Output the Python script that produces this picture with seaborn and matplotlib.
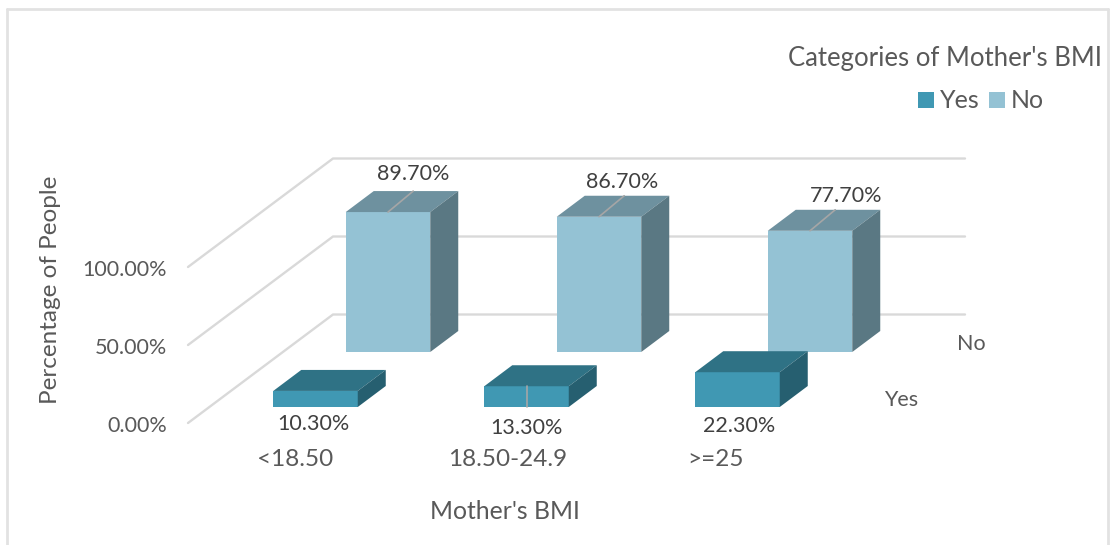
import matplotlib
matplotlib.use("Agg")
import matplotlib.pyplot as plt
import pandas as pd
import seaborn as sns
from matplotlib.lines import Line2D
from matplotlib.patches import Polygon, Rectangle
from matplotlib.transforms import Affine2D

categories = ["<18.50", "18.50-24.9", ">=25"]
yes_values = [10.3, 13.3, 22.3]
no_values = [89.7, 86.7, 77.7]
grid_values = [0, 50, 100]

W, H = 1111, 545
PX_PER_UNIT_X = 211.0
PX_PER_PCT = 1.56
ORIGIN_X, ORIGIN_Y = 315.5, 407.0
BAR_W = 84.5 / PX_PER_UNIT_X
DEPTH_X, DEPTH_Y = 28 / PX_PER_UNIT_X, 21 / PX_PER_PCT
TEXT = "#404040"
SOFT = "#595959"
GRID = "#D9D9D9"

sns.set_theme(style="white")
plt.rcParams["font.family"] = ["Lato", "DejaVu Sans"]

fig = plt.figure(figsize=(W / 100, H / 100), dpi=100, facecolor="white")
ax = fig.add_axes([0, 0, 1, 1])
ax.set_xlim(-ORIGIN_X / PX_PER_UNIT_X, (W - ORIGIN_X) / PX_PER_UNIT_X)
ax.set_ylim(-(H - ORIGIN_Y) / PX_PER_PCT, ORIGIN_Y / PX_PER_PCT)
ax.set_axis_off()


def px(x, y):
    """Canvas pixel position (origin top left) to data coordinates."""
    return (x - ORIGIN_X) / PX_PER_UNIT_X, (ORIGIN_Y - y) / PX_PER_PCT


def label(x, y, s, size=15.5, color=TEXT, **kw):
    dx, dy = px(x, y + 1.5)
    kw.setdefault("ha", "center")
    ax.text(dx, dy, s, fontsize=size, color=color, va="center", **kw)


# Outer chart frame
for (a, b) in [((7, H + 5), (7, 9)), ((7, 9), (1108, 9)), ((1108, 9), (1108, H + 5))]:
    xa, ya = px(*a)
    xb, yb = px(*b)
    ax.add_line(Line2D([xa, xb], [ya, yb], color="#E2E2E2", lw=2, zorder=1, clip_on=False))

# Gridlines: a slanted floor/wall run, then the horizontal run along the back wall
for g in grid_values:
    fx, fy = px(188, 423 - g * PX_PER_PCT)
    bx, by = px(333, 314.5 - g * PX_PER_PCT)
    ex, _ = px(965, 0)
    ax.add_line(Line2D([fx, bx, ex], [fy, by, by], color=GRID, lw=1.7, zorder=1))


def draw_series(values, colors, shift_x, shift_y, z, series):
    front, top, side = colors
    frame = pd.DataFrame({"category": categories, "value": values})
    before = len(ax.patches)
    sns.barplot(data=frame, x="category", y="value", order=categories, color=front,
                saturation=1, width=BAR_W, bottom=shift_y, ax=ax, legend=False,
                edgecolor="none", zorder=z)
    offset = Affine2D().translate(shift_x * PX_PER_UNIT_X, 0)
    for bar, v in zip(ax.patches[before:], values):
        bar.set_transform(ax.transData + offset)
        bar.set_linewidth(0)
        x0 = bar.get_x() + shift_x
        x1 = x0 + BAR_W
        y0 = shift_y
        y1 = shift_y + v
        ax.add_patch(Polygon([(x0, y1), (x1, y1), (x1 + DEPTH_X, y1 + DEPTH_Y), (x0 + DEPTH_X, y1 + DEPTH_Y)],
                             facecolor=top, edgecolor="none", zorder=z))
        ax.add_patch(Polygon([(x1, y0), (x1, y1), (x1 + DEPTH_X, y1 + DEPTH_Y), (x1 + DEPTH_X, y0 + DEPTH_Y)],
                             facecolor=side, edgecolor="none", zorder=z))
        mid = (x0 + x1) / 2
        if series == "No":
            # thin leader from the front edge to the value label
            ax.add_line(Line2D([mid, mid + DEPTH_X * 0.9], [y1, y1 + DEPTH_Y],
                               color="#A6A6A6", lw=1.2, zorder=z + 0.1))


YES_COLORS = ("#4098B3", "#2F7285", "#265F70")
NO_COLORS = ("#94C2D4", "#6E919F", "#5A7883")
NO_SHIFT_X = 72.5 / PX_PER_UNIT_X
NO_SHIFT_Y = 55 / PX_PER_PCT

draw_series(no_values, NO_COLORS, NO_SHIFT_X, NO_SHIFT_Y, 3, "No")
draw_series(yes_values, YES_COLORS, 0, 0, 4, "Yes")
ax.set_xlim(-ORIGIN_X / PX_PER_UNIT_X, (W - ORIGIN_X) / PX_PER_UNIT_X)
ax.set_ylim(-(H - ORIGIN_Y) / PX_PER_PCT, ORIGIN_Y / PX_PER_PCT)
ax.set_axis_off()

# Leader on the middle Yes bar
ax.add_line(Line2D([1.0, 1.0], [0, yes_values[1]], color="#A6A6A6", lw=1.2, zorder=4.5))

# Value labels
no_label_pos = [(413, 173), (622, 180), (846, 195)]
yes_label_pos = [(313, 423), (526, 427), (739, 424)]
for (x, y), v in zip(no_label_pos, no_values):
    label(x, y, f"{v:.2f}%", zorder=6)
for (x, y), v in zip(yes_label_pos, yes_values):
    label(x, y, f"{v:.2f}%", zorder=6)

# Axis text
for g in grid_values:
    label(167, 424 - g * PX_PER_PCT, f"{g:.2f}%", color=SOFT, ha="right")
for x, c in zip([295, 508, 715], categories):
    label(x, 458, c, size=17.5, color=SOFT)
label(971, 343, "No", size=15.5, color=SOFT)
label(901, 398, "Yes", size=15.5, color=SOFT)
label(505, 510, "Mother's BMI", size=17.8, color=SOFT)
label(50, 288, "Percentage of People", size=17.5, color=SOFT, rotation=90, ha="center")

# Legend
label(945.5, 57, "Categories of Mother's BMI", size=18.5, color=SOFT)
for x0, c, name in [(918, YES_COLORS[0], "Yes"), (989, NO_COLORS[0], "No")]:
    lx, ly = px(x0, 108)
    ax.add_patch(Rectangle((lx, ly), 16 / PX_PER_UNIT_X, 16 / PX_PER_PCT, facecolor=c, edgecolor="none"))
    label(x0 + 22, 99, name, size=18, color=SOFT, ha="left")

fig.savefig("out.png", dpi=100)
